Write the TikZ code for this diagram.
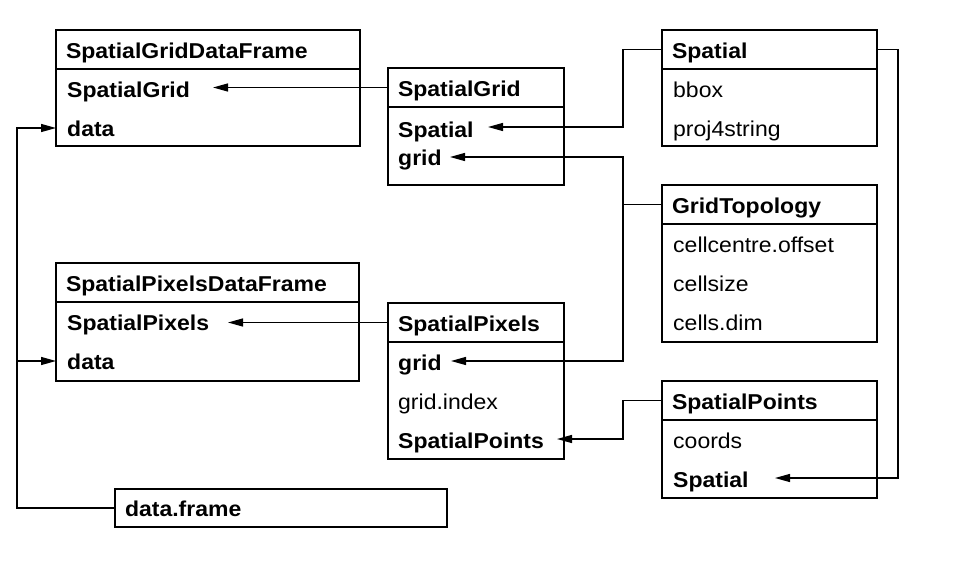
\documentclass[tikz,border=0pt]{standalone}
\usepackage{fontspec}
\setmainfont{Liberation Sans}[FakeStretch=1.07]
\usetikzlibrary{arrows.meta}
\begin{document}
\begin{tikzpicture}[x=1pt,y=-1pt,font=\fontsize{21.5}{25}\selectfont,
    box/.style={draw,line width=1.3pt},
    cls/.style={box,anchor=north west,outer sep=0pt,minimum height=39pt,inner xsep=10pt,
      text height=20pt,text depth=3pt,align=left,text width=#1},
    slot/.style={anchor=base west,inner sep=0pt},
    link/.style={line width=1.3pt},
    ref/.style={link,-{Triangle[length=15pt,width=8pt]}}]
    \useasboundingbox (0,0) rectangle (959,581);

    \node[cls=284pt] (sgdf) at (56,30) {\bfseries SpatialGridDataFrame};
    \draw[box] (sgdf.south west) rectangle (360,146);
    \node[slot] (sgdf-grid) at (67,97) {\bfseries SpatialGrid};
    \node[slot] (sgdf-data) at (67,136) {\bfseries data};

    \node[cls=156pt] (sg) at (388,68) {\bfseries SpatialGrid};
    \draw[box] (sg.south west) rectangle (564,185);
    \node[slot] (sg-sp) at (398,137) {\bfseries Spatial};
    \node[slot] (sg-grid) at (398,165) {\bfseries grid};

    \node[cls=195pt] (spatial) at (662,30) {\bfseries Spatial};
    \draw[box] (spatial.south west) rectangle (877,146);
    \node[slot] (spatial-bbox) at (673,97) {bbox};
    \node[slot] (spatial-proj) at (673,136) {proj4string};

    \node[cls=195pt] (topo) at (662,185) {\bfseries GridTopology};
    \draw[box] (topo.south west) rectangle (877,342);
    \node[slot] (topo-off) at (673,252) {cellcentre.offset};
    \node[slot] (topo-size) at (673,291) {cellsize};
    \node[slot] (topo-dim) at (673,330) {cells.dim};

    \node[cls=283pt] (spdf) at (56,263) {\bfseries SpatialPixelsDataFrame};
    \draw[box] (spdf.south west) rectangle (359,381);
    \node[slot] (spdf-pix) at (67,330) {\bfseries SpatialPixels};
    \node[slot] (spdf-data) at (67,369) {\bfseries data};

    \node[cls=156pt] (spix) at (388,303) {\bfseries SpatialPixels};
    \draw[box] (spix.south west) rectangle (564,459);
    \node[slot] (spix-grid) at (398,370) {\bfseries grid};
    \node[slot] (spix-index) at (398,409) {grid.index};
    \node[slot] (spix-pts) at (398,448) {\bfseries SpatialPoints};

    \node[cls=195pt] (spts) at (662,381) {\bfseries SpatialPoints};
    \draw[box] (spts.south west) rectangle (877,498);
    \node[slot] (spts-coords) at (673,448) {coords};
    \node[slot] (spts-sp) at (673,487) {\bfseries Spatial};

    \node[cls=312pt,minimum height=38pt] (df) at (115,489) {\bfseries data.frame};

    \coordinate (sgdf-grid-tip) at (213,87.5);
    \coordinate (sgdf-data-tip) at (56,128);
    \coordinate (sg-sp-tip) at (488,127);
    \coordinate (sg-grid-tip) at (450,157);
    \coordinate (spdf-pix-tip) at (228,322.5);
    \coordinate (spdf-data-tip) at (56,361);
    \coordinate (spix-grid-tip) at (451,361);
    \coordinate (spix-pts-tip) at (557,439);
    \coordinate (spts-sp-tip) at (775,478);

    \draw[ref] (sg.west) -- (sgdf-grid-tip);
    \draw[ref] (spix.west) -- (spdf-pix-tip);
    \draw[ref] (spatial.west) -- ++(-39,0) |- (sg-sp-tip);
    \draw[ref] (topo.west) -- ++(-39,0) |- (sg-grid-tip);
    \draw[ref] (topo.west) -- ++(-39,0) |- (spix-grid-tip);
    \draw[ref] (spts.west) -- ++(-39,0) |- (spix-pts-tip);
    \draw[ref] (spatial.east) -- ++(21,0) |- (spts-sp-tip);
    \draw[ref] (df.west) -- ++(-98,0) |- (sgdf-data-tip);
    \draw[ref] (df.west) -- ++(-98,0) |- (spdf-data-tip);
\end{tikzpicture}
\end{document}
